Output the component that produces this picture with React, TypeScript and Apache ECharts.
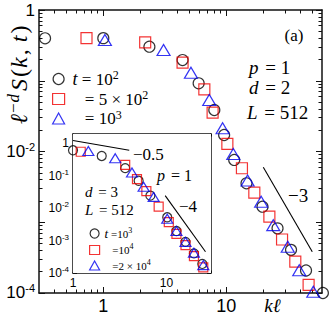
import React, { useEffect, useRef } from 'react';
import * as echarts from 'echarts';

const SERIF = '"Liberation Serif", "DejaVu Serif", serif';
const SANS = '"Liberation Sans", "DejaVu Sans", sans-serif';

// ---------- main panel (d = 2) ----------
const mainK_t1e2 = [0.336, 1.0, 2.37, 4.41, 5.96, 7.99, 9.6, 11.6, 14.6, 19.7, 26.1, 33.6, 44.5, 61];
const mainS_t1e2 = [0.398, 0.4, 0.303, 0.196, 0.092, 0.0386, 0.0171, 0.0076, 0.00355, 0.00166, 8.2e-4, 4.07e-4, 2.08e-4, 1e-4];
const mainK_t5e2 = [0.73, 2.19, 4.41, 6.63, 7.74, 10.2, 13.4, 16.9, 22.4, 28.4, 36.4, 46.7];
const mainS_t5e2 = [0.4, 0.349, 0.18, 0.0757, 0.0354, 0.0128, 0.0058, 0.00262, 0.0012, 5.7e-4, 2.77e-4, 1.3e-4];
const mainK_t1e3 = [1.03, 3.09, 5.16, 7.27, 9.33, 11.4, 14.9, 19.2, 24.1, 31.6, 39.2, 51];
const mainS_t1e3 = [0.377, 0.272, 0.13, 0.0534, 0.0213, 0.0092, 0.0039, 0.00195, 9.1e-4, 4.5e-4, 2.1e-4, 1.04e-4];
const mainGuideK = [20, 50];
const mainGuideS = [0.006, 3.84e-4];

// ---------- inset (d = 3) ----------
const insK_t1e3 = [1.0, 2.03, 3.62, 5.04, 6.73, 10.2, 12.8, 16, 19.7, 24.2];
const insS_t1e3 = [0.6, 0.4, 0.169, 0.069, 0.024, 0.0052, 0.00196, 9.1e-4, 4e-4, 1.9e-4];
const insK_t1e4 = [1.21, 3.62, 4.84, 6.1, 8.26, 10.6, 12.8, 16, 19.7, 24.8];
const insS_t1e4 = [0.54, 0.213, 0.078, 0.033, 0.011, 0.0037, 0.0016, 7.2e-4, 3.3e-4, 1.5e-4];
const insK_t2e4 = [1.46, 2.83, 4.28, 5.7, 7.3, 10.2, 12.8, 16, 19.7, 24.8];
const insS_t2e4 = [0.57, 0.34, 0.124, 0.045, 0.022, 0.0047, 0.00196, 9.1e-4, 4.2e-4, 1.75e-4];
const insGuideAK = [1, 4];
const insGuideAS = [1.2, 0.6];
const insGuideBK = [9.7, 26.2];
const insGuideBS = [0.024, 4.5e-4];

// ---------- axes ----------
const mainXRange = [0.3, 60];
const mainYRange = [0.99999e-4, 1.00001];
const insXRange = [0.99999, 30.001];
const insYRange = [0.99999e-4, 1.9];

const mainXMajor = [1, 10];
const mainXMinor = [0.4, 0.5, 0.6, 0.7, 0.8, 0.9, 2, 3, 4, 5, 6, 7, 8, 9, 20, 30, 40, 50];
const mainXLabels = [1, 10];
const mainYMajor = [1, 1e-1, 1e-2, 1e-3, 1e-4];
const mainYLabels = [1, 1e-2, 1e-4];
const insXMajor = [1, 10];
const insXMinor = [2, 3, 4, 5, 6, 7, 8, 9, 20, 30];
const insXLabels = [1, 10];
const insYMajor = [1, 1e-1, 1e-2, 1e-3, 1e-4];
const insYLabels = [1, 1e-1, 1e-2, 1e-3, 1e-4];
const minorMultipliers = [2, 3, 4, 5, 6, 7, 8, 9];
const yDecades = [1e-4, 1e-3, 1e-2, 1e-1];

const yMinor: number[] = [];
yDecades.forEach((d) => minorMultipliers.forEach((m) => yMinor.push(m * d)));

const zip = (a: number[], b: number[]) => a.map((v, i) => [v, b[i]]);

const fmtPow = (v: number) => {
  const e = Math.round(Math.log10(v));
  if (e === 0) return '{b|1}';
  if (e === 1) return '{b|10}';
  return '{b|10}{s|' + (e < 0 ? '-' : '') + Math.abs(e) + '}';
};

function axisSet(
  dim: 'x' | 'y', gridIndex: number, range: number[], major: number[], minor: number[],
  labels: number[], fontSize: number, supSize: number, supLift: number, margin: number,
  majorLen: number, minorLen: number
) {
  const sides = dim === 'x' ? ['bottom', 'top'] : ['left', 'right'];
  const out: any[] = [];
  sides.forEach((pos, si) => {
    [major, minor].forEach((ticks, ti) => {
      const withLabel = si === 0 && ti === 0;
      out.push({
        type: 'log', logBase: 10, gridIndex, min: range[0], max: range[1], position: pos,
        axisLine: { show: ti === 0, onZero: false, lineStyle: { color: '#111', width: 1.5 } },
        axisTick: {
          show: true, inside: true, length: ti === 0 ? majorLen : minorLen,
          customValues: ticks, lineStyle: { color: '#111', width: 1 },
        },
        axisLabel: withLabel
          ? {
              show: true, customValues: labels, margin, formatter: fmtPow,
              fontFamily: SANS, fontSize, color: '#000',
              rich: {
                b: { fontFamily: SANS, fontSize, color: '#000' },
                s: { fontFamily: SANS, fontSize: supSize, color: '#000', padding: [0, 0, supLift, 0] },
              },
            }
          : { show: false },
        splitLine: { show: false },
        minorTick: { show: false },
      });
    });
  });
  return out;
}

const hollow = (c: string, w = 1.2) => ({ color: 'rgba(0,0,0,0)', borderColor: c, borderWidth: w });
const RED = '#f00000';
const BLUE = '#0000f0';

const mainLegendText: Record<string, string> = {
  'main t=1e2': '{t|t}{n| = 10}{s|2}',
  'main t=5e2': '{m| = 5 × 10}{s|2}',
  'main t=1e3': '{m| = 10}{s|3}',
};
const insLegendText: Record<string, string> = {
  'inset t=1e3': '{t|t}{n| =10}{s|3}',
  'inset t=1e4': '{m| =10}{s|4}',
  'inset t=2e4': '{m| =2 × 10}{s|4}',
};

function txt(text: string, x: number, y: number, size: number, align = 'left', rotation = 0, supSize = 12) {
  return {
    type: 'text', x, y, rotation, silent: true, z: 50,
    style: {
      text, fill: '#000', fontFamily: SERIF, fontSize: size,
      align, verticalAlign: 'middle',
      rich: {
        i: { fontFamily: SERIF, fontSize: size, fontStyle: 'italic', fill: '#000', color: '#000', padding: [0, 1, 0, 0] },
        n: { fontFamily: SERIF, fontSize: size, fill: '#000', color: '#000', padding: [0, 1, 0, 1] },
        s: { fontFamily: SERIF, fontSize: supSize, fill: '#000', color: '#000', padding: [0, 0, Math.round(size * 0.5), 0] },
        si: { fontFamily: SERIF, fontSize: supSize, fontStyle: 'italic', fill: '#000', color: '#000', padding: [0, 3, Math.round(size * 0.5), 1] },
      },
    },
  };
}

export default function App() {
  const ref = useRef<HTMLDivElement>(null);
  useEffect(() => {
    if (!ref.current) return;
    const chart = echarts.init(ref.current, undefined, { renderer: 'svg' });
    const xAxes = [
      ...axisSet('x', 0, mainXRange, mainXMajor, mainXMinor, mainXLabels, 18, 11, 10, 4, 6, 3.5),
      ...axisSet('x', 1, insXRange, insXMajor, insXMinor, insXLabels, 12, 8, 7, 4, 4, 2.5),
    ];
    const yAxes = [
      ...axisSet('y', 0, mainYRange, mainYMajor, yMinor, mainYLabels, 17, 11, 10, 4, 6, 3.5),
      ...axisSet('y', 1, insYRange, insYMajor, yMinor, insYLabels, 12, 8, 7, 4, 4, 2.5),
    ];
    const scat = (name: string, k: number[], s: number[], sym: string, size: any, color: string, ax: number) => ({
      name, type: 'scatter', xAxisIndex: ax, yAxisIndex: ax, data: zip(k, s), symbol: sym,
      symbolSize: size, itemStyle: hollow(color), silent: true, clip: false, z: 3,
    });
    const guide = (k: number[], s: number[], ax: number) => ({
      type: 'line', xAxisIndex: ax, yAxisIndex: ax, data: zip(k, s), symbol: 'none', silent: true,
      lineStyle: { color: '#000', width: 1.1 }, z: 2,
    });
    const option: any = {
      animation: false,
      backgroundColor: '#fff',
      grid: [
        { left: 39, top: 10, width: 283, height: 283, show: false },
        { left: 73, top: 134, width: 138, height: 139, show: true, backgroundColor: '#fff', borderWidth: 0, z: 1 },
      ],
      xAxis: xAxes,
      yAxis: yAxes,
      legend: [
        {
          orient: 'vertical', left: 47, top: 64, itemWidth: 12, itemHeight: 11, itemGap: 1,
          selectedMode: false,
          data: [
            { name: 'main t=1e2', icon: 'circle', itemStyle: hollow('#000') },
            { name: 'main t=5e2', icon: 'rect', itemStyle: hollow(RED) },
            { name: 'main t=1e3', icon: 'triangle', itemStyle: hollow(BLUE) },
          ],
          formatter: (n: string) => mainLegendText[n],
          textStyle: {
            fontFamily: SERIF, fontSize: 17, color: '#000',
            rich: {
              t: { fontFamily: SERIF, fontSize: 18, fontStyle: 'italic', color: '#000', padding: [0, 0, 0, 3] },
              n: { fontFamily: SERIF, fontSize: 17, color: '#000' },
              m: { fontFamily: SERIF, fontSize: 17, color: '#000', padding: [0, 0, 0, 11] },
              s: { fontFamily: SERIF, fontSize: 12, color: '#000', padding: [0, 0, 8, 0] },
            },
          },
        },
        {
          orient: 'vertical', left: 84, top: 221, itemWidth: 10, itemHeight: 9, itemGap: 2.5,
          selectedMode: false,
          data: [
            { name: 'inset t=1e3', icon: 'circle', itemStyle: hollow('#000') },
            { name: 'inset t=1e4', icon: 'rect', itemStyle: hollow(RED) },
            { name: 'inset t=2e4', icon: 'triangle', itemStyle: hollow(BLUE) },
          ],
          formatter: (n: string) => insLegendText[n],
          textStyle: {
            fontFamily: SERIF, fontSize: 12, color: '#000',
            rich: {
              t: { fontFamily: SERIF, fontSize: 13, fontStyle: 'italic', color: '#000' },
              n: { fontFamily: SERIF, fontSize: 11, color: '#000' },
              m: { fontFamily: SERIF, fontSize: 11, color: '#000', padding: [0, 0, 0, 5] },
              s: { fontFamily: SERIF, fontSize: 8, color: '#000', padding: [0, 0, 7, 0] },
            },
          },
        },
      ],
      series: [
        scat('main t=1e2', mainK_t1e2, mainS_t1e2, 'circle', 11, '#000', 0),
        scat('main t=5e2', mainK_t5e2, mainS_t5e2, 'rect', 11, RED, 0),
        scat('main t=1e3', mainK_t1e3, mainS_t1e3, 'triangle', [13, 11], BLUE, 0),
        guide(mainGuideK, mainGuideS, 0),
        scat('inset t=1e3', insK_t1e3, insS_t1e3, 'circle', 9, '#000', 4),
        scat('inset t=1e4', insK_t1e4, insS_t1e4, 'rect', 9, RED, 4),
        scat('inset t=2e4', insK_t2e4, insS_t2e4, 'triangle', [11, 9], BLUE, 4),
        guide(insGuideAK, insGuideAS, 4),
        guide(insGuideBK, insGuideBS, 4),
      ],
      graphic: [
        txt('{i|ℓ}{s|−}{si|d}{i|S}{n|(}{i|k}{n|, }{i|t}{n|)}', 19, 124, 24, 'left', Math.PI / 2, 17),
        txt('{i|kℓ}', 273, 305, 19, 'center'),
        txt('(a)', 294, 35, 17, 'center'),
        txt('{i|p}{n| = 1}', 249, 67, 19),
        txt('{i|d}{n| = 2}', 249, 87, 19),
        txt('{i|L}{n| = 512}', 247, 112, 19),
        txt('−3', 288, 195, 19),
        txt('−0.5', 133, 154, 17),
        txt('{i|p}{n| = 1}', 157, 175, 16),
        txt('{i|d}{n| = 3}', 85, 192, 15),
        txt('{i|L}{n| = 512}', 85, 210, 15),
        txt('−4', 179, 206, 17),
      ],
    };
    chart.setOption(option);
    return () => chart.dispose();
  }, []);
  return <div ref={ref} style={{ position: 'absolute', left: 0, top: 0, width: 332, height: 317 }} />;
}
